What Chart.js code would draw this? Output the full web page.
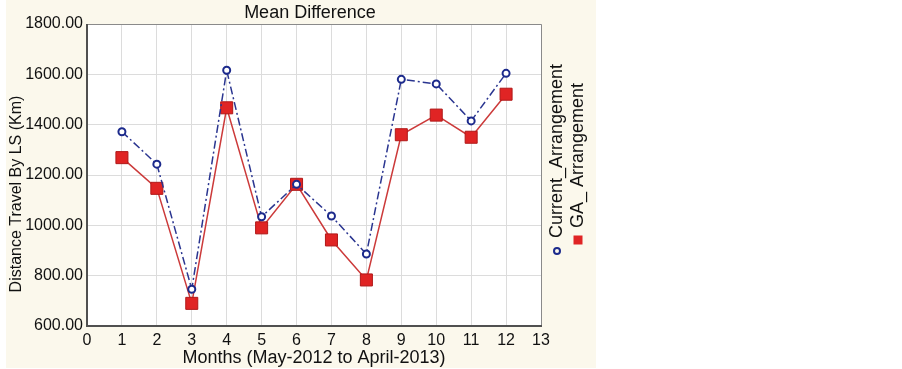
<!DOCTYPE html>
<html>
<head>
<meta charset="utf-8">
<script src="https://cdn.jsdelivr.net/npm/chart.js@4.4.0/dist/chart.umd.min.js"></script>
<style>
  html, body { margin: 0; padding: 0; background: #ffffff; }
  #wrap { position: relative; width: 902px; height: 369px; }
</style>
</head>
<body>
<div id="wrap"><canvas id="mean-chart" width="902" height="369"></canvas></div>
<script>
var months = [1, 2, 3, 4, 5, 6, 7, 8, 9, 10, 11, 12];
var currentArrangement = [1372, 1243, 746, 1616, 1034, 1163, 1037, 886, 1580, 1562, 1415, 1604];
var gaArrangement = [1269, 1147, 690, 1467, 990, 1163, 942, 783, 1360, 1438, 1350, 1521];
var seriesNames = ['Current_Arrangement', 'GA_ Arrangement'];
var yTitle = 'Distance Travel By LS (Km)';

var FONT = "'Liberation Sans', Arial, sans-serif";

// beige panel + white plot area + box border + titles
const panelPlugin = {
    id: 'panel',
    beforeDraw: function(chart) {
        const ctx = chart.ctx;
        const a = chart.chartArea;
        ctx.save();
        ctx.fillStyle = '#fbf8ec';
        ctx.fillRect(6, 0, 590, 368);
        ctx.fillStyle = '#ffffff';
        ctx.fillRect(a.left, a.top, a.right - a.left, a.bottom - a.top);
        ctx.restore();
    },
    afterDatasetsDraw: function(chart) {
        const ctx = chart.ctx;
        const a = chart.chartArea;
        ctx.save();
        ctx.strokeStyle = '#8a8a8a';
        ctx.lineWidth = 1;
        ctx.beginPath();
        ctx.moveTo(a.left, a.top + 0.5);
        ctx.lineTo(a.right + 0.5, a.top + 0.5);
        ctx.lineTo(a.right + 0.5, a.bottom);
        ctx.stroke();
        ctx.strokeStyle = '#505050';
        ctx.lineWidth = 2;
        ctx.beginPath();
        ctx.moveTo(a.left, a.top);
        ctx.lineTo(a.left, a.bottom);
        ctx.lineTo(a.right + 1, a.bottom);
        ctx.stroke();
        // title
        ctx.fillStyle = '#111111';
        ctx.font = '18px ' + FONT;
        ctx.textAlign = 'center';
        ctx.textBaseline = 'middle';
        ctx.fillText('Mean Difference', 310, 13);
        // y axis title
        ctx.translate(17, 194);
        ctx.rotate(-Math.PI / 2);
        ctx.font = '16px ' + FONT;
        ctx.fillText(yTitle, 0, 0);
        ctx.restore();
    }
};

// vertical legend on the right, text read bottom-to-top
const sideLegend = {
    id: 'sideLegend',
    afterDraw: function(chart) {
        const ctx = chart.ctx;
        const sets = chart.data.datasets;
        const spots = [{x: 557, y: 251, ty: 238}, {x: 578, y: 240, ty: 228}];
        ctx.save();
        sets.forEach(function(ds, i) {
            const s = spots[i];
            if (ds.pointStyle === 'rect') {
                ctx.fillStyle = ds.pointBackgroundColor;
                ctx.fillRect(s.x - 4.5, s.y - 4.5, 9, 9);
            } else {
                ctx.strokeStyle = ds.pointBorderColor;
                ctx.lineWidth = 2;
                ctx.beginPath();
                ctx.arc(s.x, s.y, 3, 0, Math.PI * 2);
                ctx.stroke();
            }
            ctx.translate(s.x, s.ty);
            ctx.rotate(-Math.PI / 2);
            ctx.fillStyle = '#111111';
            ctx.font = '18px ' + FONT;
            ctx.textAlign = 'left';
            ctx.textBaseline = 'middle';
            ctx.fillText(ds.label, 0, 0);
            ctx.setTransform(1, 0, 0, 1, 0, 0);
        });
        ctx.restore();
    }
};

const data = {
    datasets: [{
        label: seriesNames[0],
        data: months.map((m, i) => ({x: m, y: currentArrangement[i]})),
        borderColor: '#2a3590',
        borderWidth: 1.5,
        borderDash: [8, 3, 2, 3],
        pointStyle: 'circle',
        pointRadius: 3.5,
        pointBorderWidth: 2,
        pointBorderColor: '#1c2a8c',
        pointBackgroundColor: '#ffffff',
        order: 1
    }, {
        label: seriesNames[1],
        data: months.map((m, i) => ({x: m, y: gaArrangement[i]})),
        borderColor: '#cc3a3a',
        borderWidth: 1.5,
        pointStyle: 'rect',
        pointRadius: 8.5,
        pointBorderWidth: 1,
        pointBorderColor: '#b01818',
        pointBackgroundColor: '#e02424',
        order: 2
    }]
};

const config = {
    type: 'line',
    data: data,
    plugins: [panelPlugin, sideLegend],
    options: {
        responsive: false,
        animation: false,
        layout: { padding: { left: 0, top: 24, right: 361, bottom: 0 } },
        plugins: {
            legend: { display: false },
            title: { display: false },
            tooltip: { enabled: false }
        },
        scales: {
            x: {
                type: 'linear',
                min: 0,
                max: 13,
                ticks: {
                    stepSize: 1,
                    color: '#111111',
                    font: { family: FONT, size: 16 },
                    padding: 5
                },
                grid: { color: '#dcdcdc', drawTicks: false },
                border: { display: false },
                title: {
                    display: true,
                    text: 'Months (May-2012 to April-2013)',
                    color: '#111111',
                    font: { family: FONT, size: 18 },
                    padding: { top: 0, bottom: 0 }
                },
                afterFit: function(scale) { scale.height = 43; }
            },
            y: {
                min: 600,
                max: 1800,
                ticks: {
                    stepSize: 200,
                    color: '#111111',
                    font: { family: FONT, size: 16 },
                    padding: 4,
                    callback: function(value) { return value.toFixed(2); }
                },
                grid: { color: '#dcdcdc', drawTicks: false },
                border: { display: false },
                afterFit: function(scale) { scale.width = 87; }
            }
        }
    }
};

const chart = new Chart(document.getElementById('mean-chart'), config);
</script>
</body>
</html>
